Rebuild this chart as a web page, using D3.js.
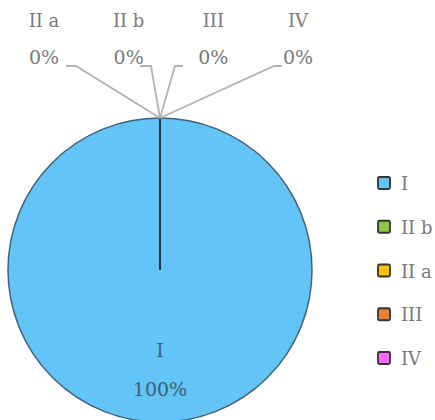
<!DOCTYPE html>
<html>
<head>
<meta charset="utf-8">
<script src="https://cdn.jsdelivr.net/npm/d3@7"></script>
<style>
  body { margin: 0; background: #fff; }
  svg { display: block; }
  text { font-family: "DejaVu Serif", "Liberation Serif", serif; }
</style>
</head>
<body>
<svg width="435" height="420"></svg>
<script>
// data
const categories = ["I", "II b", "II a", "III", "IV"];
const values = [100, 0, 0, 0, 0];
const colors = ["#63c4f8", "#8dc63f", "#ffc000", "#ed7d31", "#ff66ff"];
// order in which slices appear around the pie (clockwise from top)
const pieOrder = ["I", "II a", "II b", "III", "IV"];

const svg = d3.select("svg");
const cx = 160, cy = 270, radius = 152;

const color = d3.scaleOrdinal().domain(categories).range(colors);
const rows = categories.map((c, i) => ({ cat: c, value: values[i] }));

const pie = d3.pie()
  .sort((a, b) => pieOrder.indexOf(a.cat) - pieOrder.indexOf(b.cat))
  .value(d => d.value);
const arcs = pie(rows);
const arc = d3.arc().innerRadius(0).outerRadius(radius);

const g = svg.append("g").attr("transform", `translate(${cx},${cy})`);

g.selectAll("path.slice")
  .data(arcs)
  .enter().append("path")
  .attr("class", "slice")
  .attr("d", arc)
  .attr("fill", d => color(d.data.cat))
  .attr("stroke", "#3f6378")
  .attr("stroke-width", 1.5);

// slice boundary line at start angle
g.append("line")
  .attr("x1", 0).attr("y1", 0).attr("x2", 0).attr("y2", -radius)
  .attr("stroke", "#1d3547").attr("stroke-width", 2);

// label for the big slice
const big = arcs.find(a => a.data.value > 0);
const total = d3.sum(values);
g.append("text")
  .attr("x", 0).attr("y", 87)
  .attr("text-anchor", "middle")
  .attr("font-size", 19).attr("fill", "#3d6072")
  .text(big.data.cat);
g.append("text")
  .attr("x", 0).attr("y", 126)
  .attr("text-anchor", "middle")
  .attr("font-size", 19).attr("fill", "#3d6072")
  .text(d3.format(".0%")(big.data.value / total));

// leader labels for zero slices, placed above the pie
const outside = arcs.filter(a => a.data.value === 0)
  .sort((a, b) => pieOrder.indexOf(a.data.cat) - pieOrder.indexOf(b.data.cat));
const labelX = d3.scalePoint().domain(outside.map(d => d.data.cat)).range([44, 298]);
const anchorX = { "II a": 76, "II b": 151, "III": 175, "IV": 274 };
const tail = { "II a": -10, "II b": -11, "III": 8, "IV": 8 };
const lineY = 66;

outside.forEach(d => {
  const ox = cx, oy = cy - radius;
  const ax = anchorX[d.data.cat];
  svg.append("polyline")
    .attr("points", `${ox},${oy} ${ax},${lineY} ${ax + tail[d.data.cat]},${lineY}`)
    .attr("fill", "none").attr("stroke", "#b3b3b3").attr("stroke-width", 1.8);
  svg.append("text")
    .attr("x", labelX(d.data.cat)).attr("y", 27)
    .attr("text-anchor", "middle")
    .attr("font-size", 18).attr("fill", "#7a7a7a")
    .text(d.data.cat);
  svg.append("text")
    .attr("x", labelX(d.data.cat)).attr("y", 64)
    .attr("text-anchor", "middle")
    .attr("font-size", 19).attr("fill", "#7a7a7a")
    .text(d3.format(".0%")(d.data.value / total));
});

// legend
const legendY = d3.scalePoint().domain(categories).range([183, 358]);
const lg = svg.append("g");
categories.forEach(c => {
  lg.append("rect")
    .attr("x", 378).attr("y", legendY(c) - 6)
    .attr("width", 12).attr("height", 12)
    .attr("fill", color(c))
    .attr("stroke", "#333").attr("stroke-width", 1.8)
    .attr("rx", 1.5);
  lg.append("text")
    .attr("x", 401).attr("y", legendY(c) + 7)
    .attr("font-size", 18).attr("fill", "#7a7a7a")
    .text(c);
});
</script>
</body>
</html>
